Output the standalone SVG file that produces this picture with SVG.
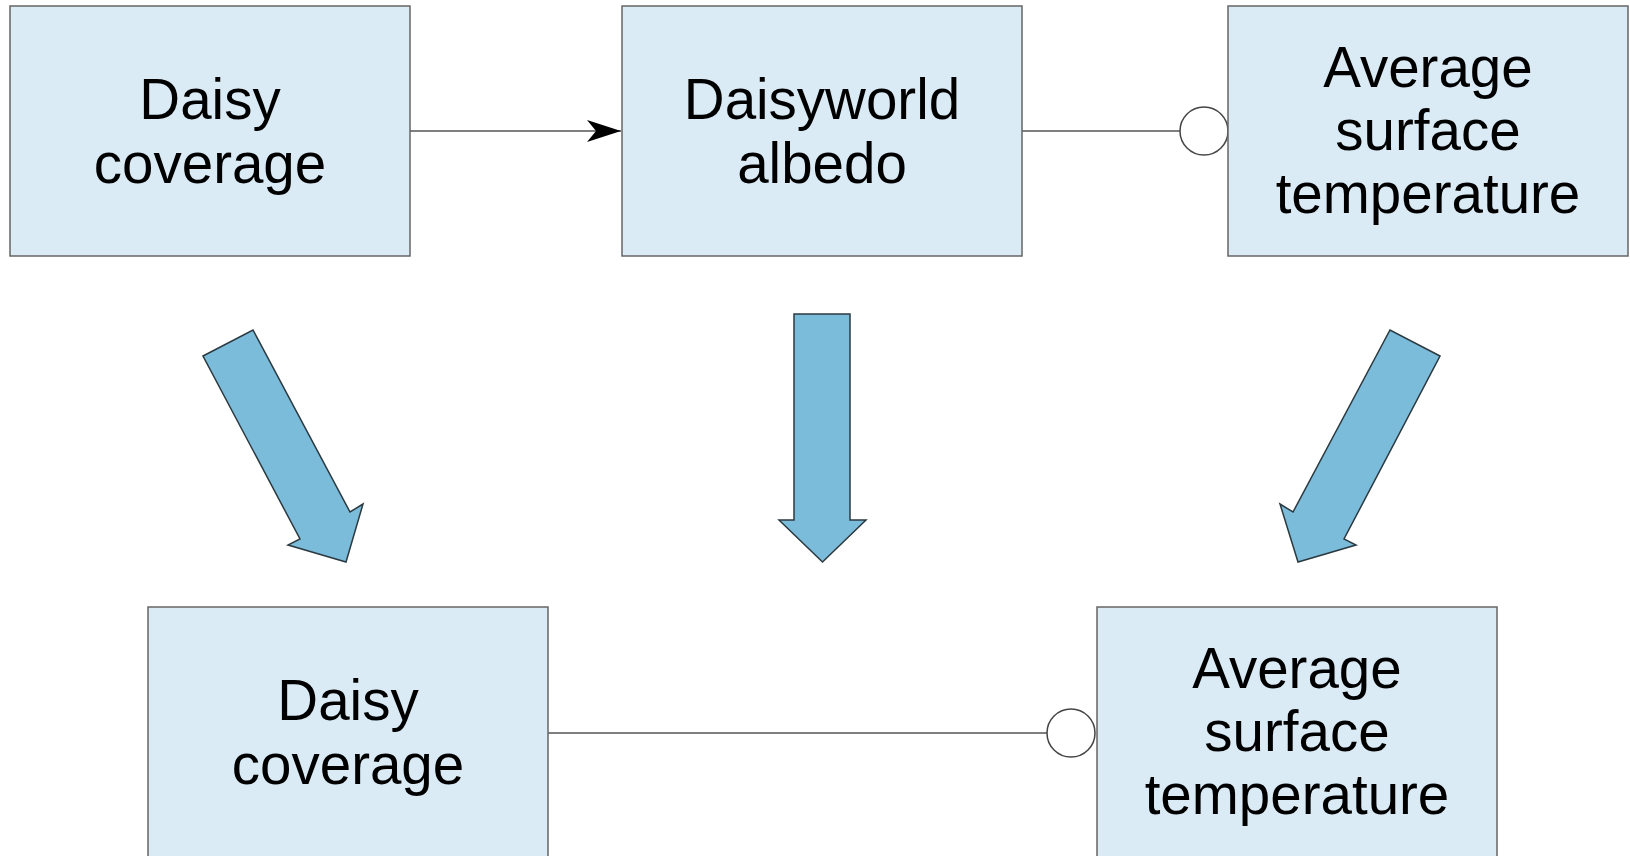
<svg xmlns="http://www.w3.org/2000/svg" width="1630" height="856" viewBox="0 0 1630 856">
<style>
.box{fill:#daebf5;stroke:#666;stroke-width:1.5}
.lbl{font-family:"Liberation Sans",Arial,sans-serif;font-size:56.5px;fill:#000;text-anchor:middle}
.conn{stroke:#555;stroke-width:1.5;fill:none}
.ring{fill:#fff;stroke:#444;stroke-width:1.5}
.big{fill:#7cbcdb;stroke:#2b3a40;stroke-width:1.5;stroke-linejoin:miter}
</style>
<defs>
<marker id="ah" markerWidth="36" markerHeight="24" refX="34" refY="11" orient="auto" markerUnits="userSpaceOnUse">
<path d="M0,0 L34,11 L0,22 L9,11 Z" fill="#000"/>
</marker>
</defs>
<rect width="1630" height="856" fill="#fff"/>
<g id="connectors">
<line class="conn" x1="410" y1="131" x2="621" y2="131" marker-end="url(#ah)"/>
<line class="conn" x1="1022" y1="131" x2="1180" y2="131"/>
<circle class="ring" cx="1204" cy="131" r="24"/>
<line class="conn" x1="548" y1="733" x2="1047" y2="733"/>
<circle class="ring" cx="1071" cy="733" r="24"/>
</g>
<g id="daisy-coverage-top">
<rect class="box" x="10" y="6" width="400" height="250"/>
<text class="lbl" x="210" y="119">Daisy</text>
<text class="lbl" x="210" y="183">coverage</text>
</g>
<g id="daisyworld-albedo">
<rect class="box" x="622" y="6" width="400" height="250"/>
<text class="lbl" x="822" y="119">Daisyworld</text>
<text class="lbl" x="822" y="183">albedo</text>
</g>
<g id="avg-temp-top">
<rect class="box" x="1228" y="6" width="400" height="250"/>
<text class="lbl" x="1428" y="87">Average</text>
<text class="lbl" x="1428" y="150">surface</text>
<text class="lbl" x="1428" y="213">temperature</text>
</g>
<g id="arrow-left">
<polygon class="big" points="203,356 253,330 350,512 363,504 346,562 288,545 300,539"/>
</g>
<g id="arrow-middle">
<polygon class="big" points="794,314 850,314 850,520 866,520 822.5,562 779,520 794,520"/>
</g>
<g id="arrow-right">
<polygon class="big" points="1440,356 1390,330 1293,512 1280,504 1298,562 1356,545 1344,539"/>
</g>
<g id="daisy-coverage-bottom">
<rect class="box" x="148" y="607" width="400" height="260"/>
<text class="lbl" x="348" y="720">Daisy</text>
<text class="lbl" x="348" y="784">coverage</text>
</g>
<g id="avg-temp-bottom">
<rect class="box" x="1097" y="607" width="400" height="260"/>
<text class="lbl" x="1297" y="688">Average</text>
<text class="lbl" x="1297" y="751">surface</text>
<text class="lbl" x="1297" y="814">temperature</text>
</g>
</svg>
